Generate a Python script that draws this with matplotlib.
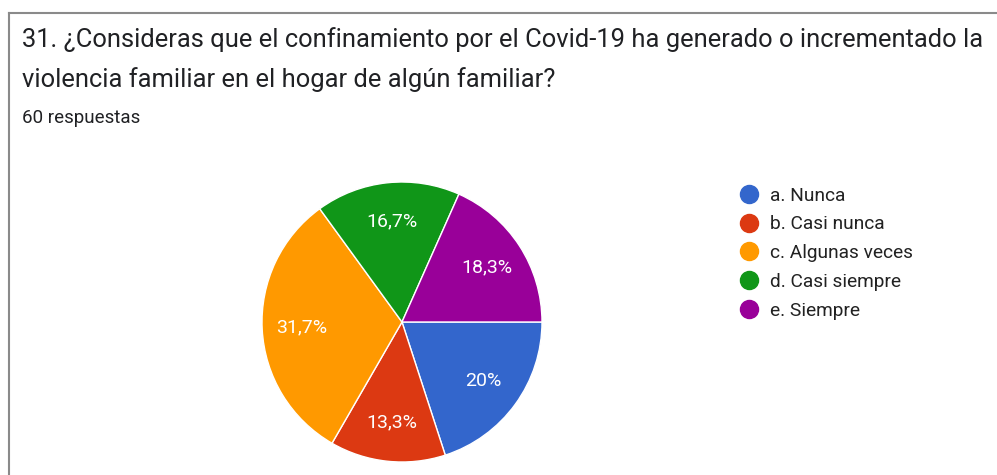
import matplotlib.pyplot as plt
from matplotlib.lines import Line2D

title = "31. ¿Consideras que el confinamiento por el Covid-19 ha generado o incrementado la\nviolencia familiar en el hogar de algún familiar?"
subtitle = "60 respuestas"
labels = ["a. Nunca", "b. Casi nunca", "c. Algunas veces", "d. Casi siempre", "e. Siempre"]
counts = [12, 8, 19, 10, 11]
colors = ["#3366CC", "#DC3912", "#FF9900", "#109618", "#990099"]


def fmt_pct(p):
    p = round(p, 1)
    if abs(p - round(p)) < 1e-9:
        return "%d%%" % round(p)
    return ("%.1f%%" % p).replace(".", ",")


def main():
    plt.rcParams['font.family'] = ['Roboto', 'DejaVu Sans']
    fig = plt.figure(figsize=(9.97, 4.75), dpi=100)

    # card border (left and top edge)
    fig.add_artist(Line2D([9 / 997, 9 / 997], [0, 1 - 13 / 475], color="#8a8a8a", lw=1.5))
    fig.add_artist(Line2D([9 / 997, 1], [1 - 13 / 475, 1 - 13 / 475], color="#8a8a8a", lw=1.5))

    line1, line2 = title.split("\n")
    fig.text(22 / 997, 1 - 40 / 475, line1, ha="left", va="center",
             fontsize=18.4, color="#202124")
    fig.text(22 / 997, 1 - 80 / 475, line2, ha="left", va="center",
             fontsize=18.4, color="#202124")
    fig.text(22 / 997, 1 - 118 / 475, subtitle, ha="left", va="center", fontsize=13.5,
             color="#202124")

    ax = fig.add_axes([262 / 997, 13 / 475, 280 / 997, 280 / 475])
    wedges, texts, autotexts = ax.pie(
        counts, colors=colors, startangle=0, counterclock=False,
        autopct=fmt_pct, pctdistance=0.72,
        wedgeprops=dict(edgecolor="white", linewidth=1),
        textprops=dict(color="white", fontsize=14),
    )
    ax.set_xlim(-1, 1)
    ax.set_ylim(-1, 1)
    ax.set_aspect("equal")

    handles = [Line2D([], [], linestyle="none", marker="o", markersize=13,
                      markerfacecolor=c, markeredgecolor=c) for c in colors]
    fig.legend(handles, labels, loc="upper left", bbox_to_anchor=(732 / 997, 1 - 179 / 475),
               frameon=False, fontsize=13.8, handlelength=1.0, handletextpad=0.6,
               labelspacing=0.56, labelcolor="#222222", borderaxespad=0)
    plt.savefig("out.png", dpi=100)


if __name__ == '__main__':
    main()
